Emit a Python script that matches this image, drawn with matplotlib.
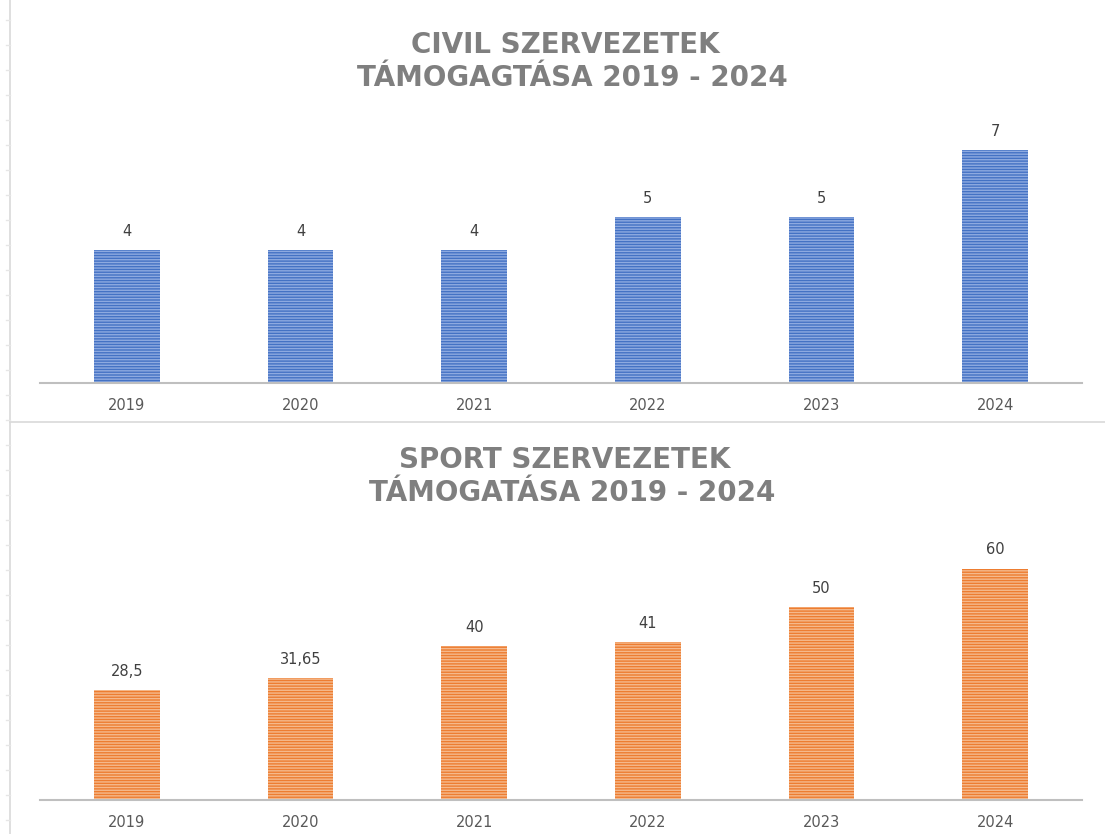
import matplotlib.pyplot as plt
from matplotlib.lines import Line2D

years = ['2019', '2020', '2021', '2022', '2023', '2024']
civil = [4, 4, 4, 5, 5, 7]
sport = [28.5, 31.65, 40, 41, 50, 60]
civil_labels = ['4', '4', '4', '5', '5', '7']
sport_labels = ['28,5', '31,65', '40', '41', '50', '60']

W, H = 1105, 834
fig = plt.figure(figsize=(W / 100, H / 100), dpi=100)
fig.patch.set_facecolor('white')

def px_axes(left, top, right, bottom):
    return fig.add_axes([left / W, 1 - bottom / H, (right - left) / W, (bottom - top) / H])

def draw(ax, vals, labels, face, stripe, ymax):
    x = range(len(years))
    ax.bar(x, vals, width=0.38, color=face, edgecolor=stripe, linewidth=0, hatch='------')
    for i, (v, lab) in enumerate(zip(vals, labels)):
        ax.annotate(lab, (i, v), xytext=(0, 8), textcoords='offset points',
                    ha='center', va='bottom', fontsize=10.5, color='#404040')
    ax.set_xlim(-0.5, len(years) - 0.5)
    ax.set_ylim(0, ymax)
    ax.set_xticks(list(x))
    ax.set_xticklabels(years, fontsize=10.5, color='#595959')
    ax.tick_params(axis='x', length=0, pad=11)
    ax.set_yticks([])
    for s in ['top', 'right', 'left']:
        ax.spines[s].set_visible(False)
    ax.spines['bottom'].set_color('#bfbfbf')
    ax.spines['bottom'].set_linewidth(1.5)
    ax.set_facecolor('none')

plt.rcParams['hatch.linewidth'] = 1.0

ax1 = px_axes(40, 117, 1082, 383)
draw(ax1, civil, civil_labels, '#4472c4', '#8eaae0', 8)
ax2 = px_axes(40, 530, 1082, 800)
draw(ax2, sport, sport_labels, '#ed7d31', '#f5b98c', 70)

tkw = dict(ha='center', va='center', fontsize=20, fontweight='bold', color='#7f7f7f',
           family='DejaVu Sans')
fig.text(565 / W, 1 - 45 / H, 'CIVIL SZERVEZETEK', **tkw)
fig.text(572 / W, 1 - 78 / H, 'TÁMOGAGTÁSA 2019 - 2024', **tkw)
fig.text(565 / W, 1 - 460 / H, 'SPORT SZERVEZETEK', **tkw)
fig.text(572 / W, 1 - 493 / H, 'TÁMOGATÁSA 2019 - 2024', **tkw)

# panel borders
fig.add_artist(Line2D([10 / W, 1], [1 - 422 / H, 1 - 422 / H], color='#d9d9d9', lw=1.2))
fig.add_artist(Line2D([10 / W, 10 / W], [0, 1], color='#d9d9d9', lw=1.2))
for yy in range(20, H, 25):
    fig.add_artist(Line2D([6 / W, 10 / W], [1 - yy / H, 1 - yy / H], color='#e6e6e6', lw=1))

fig.savefig('out.png', dpi=100)
